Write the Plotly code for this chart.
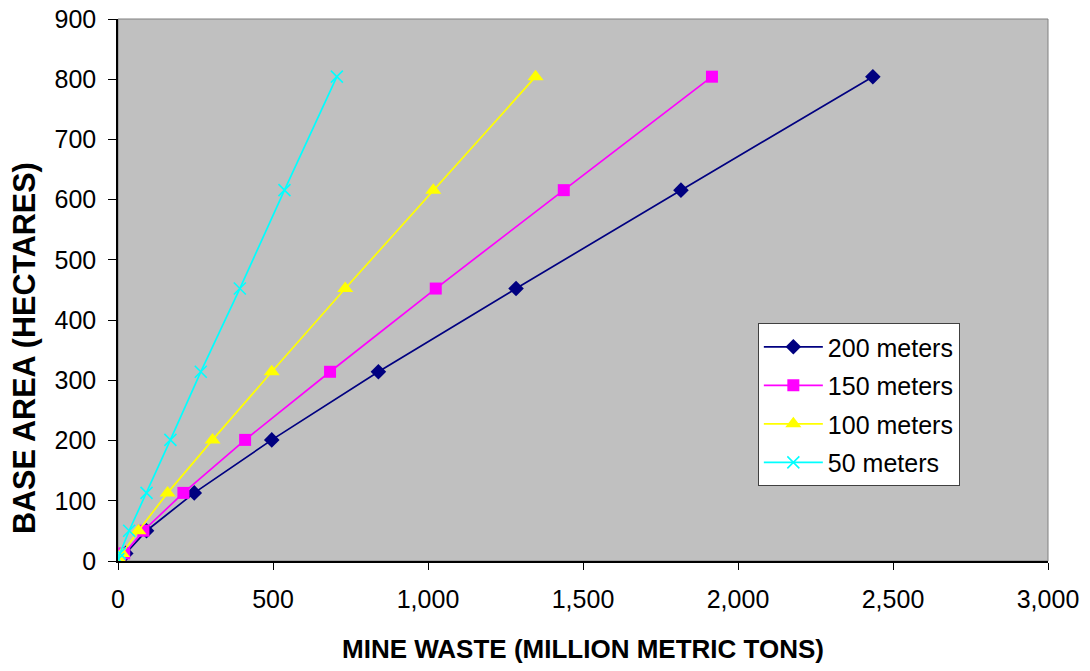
import plotly.graph_objects as go

base_area = [3.1, 12.6, 50.3, 113.1, 201.1, 314.2, 452.4, 615.8, 804.2]
waste_200 = [6, 25, 92, 246, 496, 840, 1284, 1816, 2435]
waste_150 = [5, 20, 82, 211, 410, 684, 1025, 1438, 1916]
waste_100 = [3, 13, 66, 160, 305, 496, 733, 1017, 1347]
waste_50 = [1, 6, 36, 92, 169, 267, 393, 537, 706]

series = [
    ("200 meters", waste_200, "#000080", "diamond", 12),
    ("150 meters", waste_150, "#FF00FF", "square", 12),
    ("100 meters", waste_100, "#FFFF00", "triangle-up", 14),
    ("50 meters", waste_50, "#00FFFF", "x-thin", 12),
]

fig = go.Figure()
for i, (name, xs, color, sym, size) in enumerate(series):
    marker = dict(symbol=sym, size=size, color=color)
    if sym == "x-thin":
        marker["line"] = dict(color=color, width=1.6)
    else:
        marker["line"] = dict(width=0)
    fig.add_trace(go.Scatter(
        x=xs, y=base_area, name=name, mode="lines+markers",
        line=dict(color=color, width=1.7), marker=marker,
        legendgroup=f"g{i}",
    ))

font_family = "Liberation Sans, Arial, sans-serif"
fig.update_layout(
    width=1090, height=671,
    margin=dict(l=118, r=42, t=19, b=110),
    paper_bgcolor="white", plot_bgcolor="#C0C0C0",
    font=dict(family=font_family, size=25, color="black"),
    showlegend=True,
    legend=dict(
        x=0.688, y=0.439, xanchor="left", yanchor="top",
        bgcolor="white", bordercolor="#404040", borderwidth=1,
        font=dict(size=25), tracegroupgap=3,
        itemwidth=59,
    ),
    xaxis=dict(
        range=[0, 3000], dtick=500, tickformat=",",
        showgrid=False, zeroline=False, automargin=False,
        showline=True, linecolor="black", linewidth=1.5,
        ticks="outside", ticklen=7, tickcolor="black",
        ticklabelstandoff=8,
        tickfont=dict(size=25),
        title=dict(text="<b>MINE WASTE (MILLION METRIC TONS)</b>",
                   font=dict(size=26), standoff=28),
    ),
    yaxis=dict(
        range=[0, 900], dtick=100,
        showgrid=False, zeroline=False, automargin=False,
        showline=True, linecolor="black", linewidth=1.5,
        ticks="outside", ticklen=8, tickcolor="black",
        ticklabelstandoff=7,
        tickfont=dict(size=25),
    ),
    annotations=[dict(
        text="<b>BASE AREA (HECTARES)</b>", textangle=-90,
        xref="paper", yref="paper", x=-0.100, y=0.393,
        xanchor="center", yanchor="middle", showarrow=False,
        font=dict(size=30.5),
    )],
    shapes=[dict(type="rect", xref="paper", yref="paper", x0=0, x1=1, y0=0, y1=1,
                 line=dict(color="#808080", width=1), layer="below")],
)

fig.write_html("out.html", config={"displayModeBar": False},
               post_script="document.body.style.margin='0';")
